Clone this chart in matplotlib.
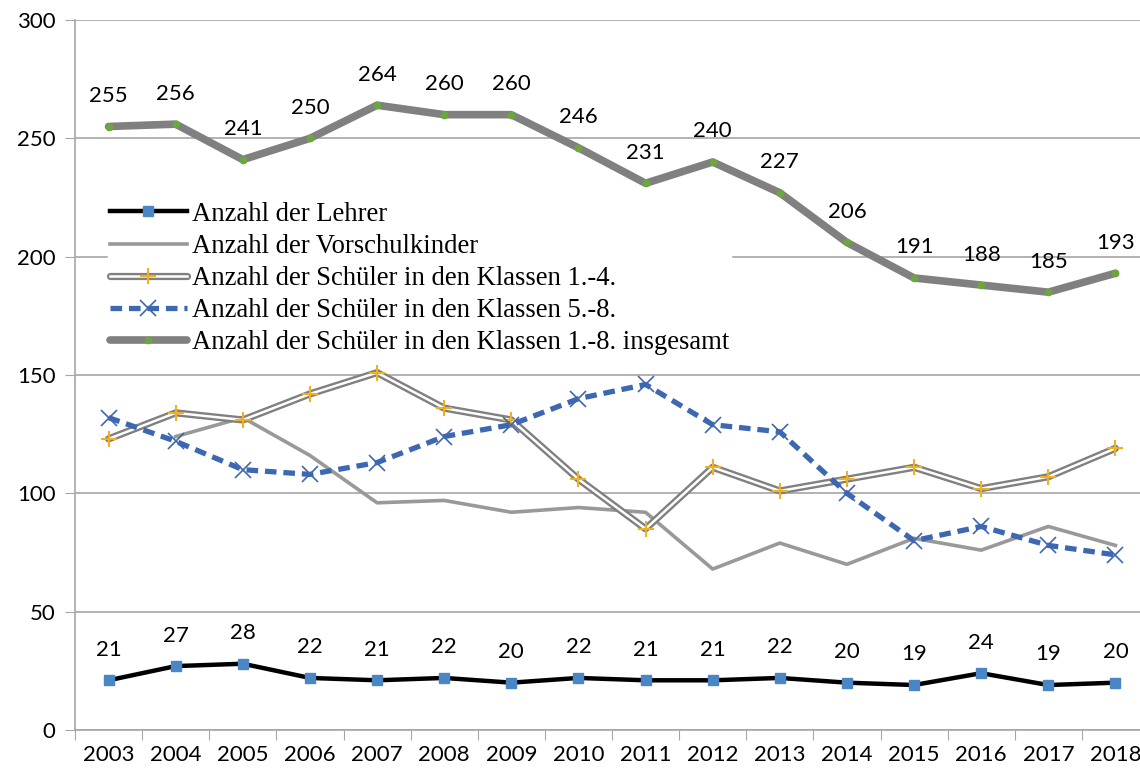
import matplotlib
matplotlib.use("Agg")
import matplotlib.pyplot as plt

jahre = ["2003", "2004", "2005", "2006", "2007", "2008", "2009", "2010",
         "2011", "2012", "2013", "2014", "2015", "2016", "2017", "2018"]
lehrer = [21, 27, 28, 22, 21, 22, 20, 22, 21, 21, 22, 20, 19, 24, 19, 20]
vorschul = [None, 124, 132, 116, 96, 97, 92, 94, 92, 68, 79, 70, 81, 76, 86, 78]
klassen_1_4 = [123, 134, 131, 142, 151, 136, 131, 106, 85, 111, 101, 106, 111, 102, 107, 119]
klassen_5_8 = [132, 122, 110, 108, 113, 124, 129, 140, 146, 129, 126, 100, 80, 86, 78, 74]
insgesamt = [255, 256, 241, 250, 264, 260, 260, 246, 231, 240, 227, 206, 191, 188, 185, 193]

x = list(range(len(jahre)))

fig = plt.figure(figsize=(11.4, 7.73), dpi=100)
ax = fig.add_axes([75 / 1140, 43 / 773, 1074 / 1140, 710 / 773])

ax.set_ylim(0, 300)
ax.set_xlim(-0.5, len(jahre) - 0.5)
ax.set_yticks(range(0, 301, 50))
ax.grid(axis="y", color="#a6a6a6", lw=1.2, zorder=0)
ax.set_axisbelow(True)

# Lehrer
h1, = ax.plot(x, lehrer, color="black", lw=3.2, marker="s", ms=7,
              mfc="#4a86c5", mec="#4a86c5", zorder=5)
# Vorschulkinder
xv = [i for i, v in zip(x, vorschul) if v is not None]
yv = [v for v in vorschul if v is not None]
h2, = ax.plot(xv, yv, color="#999999", lw=2.6, zorder=3)
# Klassen 1.-4. (double line)
h3a, = ax.plot(x, klassen_1_4, color="#808080", lw=5.2, zorder=3,
               solid_capstyle="round")
h3b, = ax.plot(x, klassen_1_4, color="white", lw=1.8, zorder=3.1)
h3c, = ax.plot(x, klassen_1_4, ls="none", marker="+", ms=12, mew=1.5,
               color="#f0b020", zorder=3.2)
# Klassen 5.-8.
h4, = ax.plot(x, klassen_5_8, color="#3d67b1", lw=3.8, ls=(0, (2.2, 1.3)),
              marker="x", ms=11, mew=1.2, zorder=4)
# insgesamt
h5, = ax.plot(x, insgesamt, color="#808080", lw=5.5, marker="o", ms=4.5,
              mfc="#6aa83e", mec="#6aa83e", zorder=4, solid_capstyle="round")

for i, v in enumerate(insgesamt):
    ax.annotate(str(v), (i, v), xytext=(0, 22), textcoords="offset points",
                ha="center", va="center", fontsize=16, family="Lato")
for i, v in enumerate(lehrer):
    ax.annotate(str(v), (i, v), xytext=(0, 22), textcoords="offset points",
                ha="center", va="center", fontsize=16, family="Lato")

ax.set_xticks([i - 0.5 for i in range(len(jahre) + 1)], minor=False)
ax.set_xticklabels([])
ax.set_xticks(x, minor=True)
ax.set_xticklabels(jahre, minor=True, fontsize=16, family="Lato")
ax.tick_params(axis="x", which="major", length=7, color="#a6a6a6", direction="out")
ax.tick_params(axis="x", which="minor", length=0, pad=11)
ax.tick_params(axis="y", length=7, color="#a6a6a6", labelsize=16, pad=7)
for lab in ax.get_yticklabels():
    lab.set_family("Lato")

for s in ["top", "right"]:
    ax.spines[s].set_visible(False)
for s in ["left", "bottom"]:
    ax.spines[s].set_color("#a6a6a6")
    ax.spines[s].set_linewidth(1.2)

leg = ax.legend([h1, h2, (h3a, h3b, h3c), h4, h5],
                ["Anzahl der Lehrer", "Anzahl der Vorschulkinder",
                 "Anzahl der Schüler in den Klassen 1.-4.",
                 "Anzahl der Schüler in den Klassen 5.-8.",
                 "Anzahl der Schüler in den Klassen 1.-8. insgesamt"],
                loc="upper left", bbox_to_anchor=(0.031, 0.746),
                frameon=True, framealpha=1, edgecolor="white", fancybox=False,
                prop={"family": "Liberation Serif", "size": 19.2},
                handlelength=2.9, handletextpad=0.2, labelspacing=0.27,
                borderpad=0.05, borderaxespad=0)
leg.set_zorder(6)

fig.savefig("out.png", dpi=100)
